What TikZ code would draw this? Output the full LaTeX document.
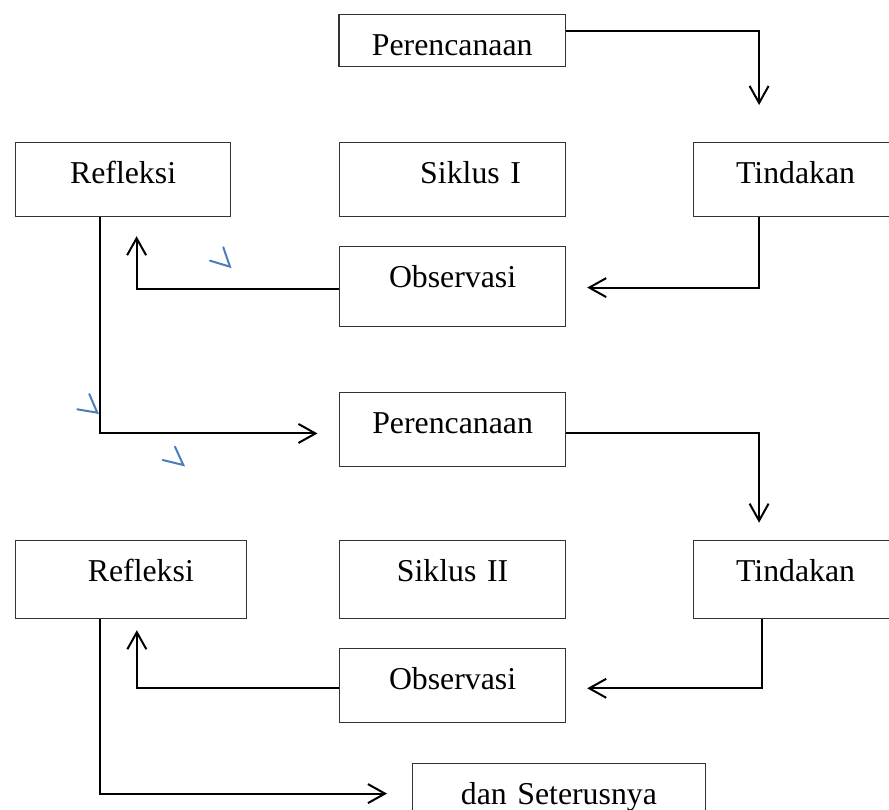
\documentclass[tikz,border=0pt]{standalone}
\usepackage{fontspec}
\setmainfont{Liberation Serif}
\usetikzlibrary{arrows.meta}
\definecolor{markblue}{RGB}{74,126,187}
\begin{document}
\begin{tikzpicture}[x=1pt,y=-1pt,
  bx/.style 2 args={draw=black!80, line width=1.2pt, anchor=north west, inner sep=0pt,
    text width=#1pt, text height=41pt, text depth=#2pt, align=center,
    font=\fontsize{31.8}{38}\selectfont},
  conn/.style={line width=2pt, -{Straight Barb[length=17pt,width=19pt,line width=2pt]}},
  bluemark/.style={draw=markblue, line width=2pt, line cap=round}]
\useasboundingbox (0,0) rectangle (889,809);
\clip (0,0) rectangle (889,809);
% boxes
\node[bx={226.7}{11}] (p1) at (338.3,14) {Perencanaan};
\node[bx={215}{33}] (r1) at (15,142) {Refleksi};
\node[bx={226}{33}] (s1) at (339,142) {\hspace*{36pt}Siklus I};
\node[bx={204}{33}] (t1) at (693,142) {Tindakan};
\node[bx={226}{39}] (o1) at (339,246) {Observasi};
\node[bx={226}{33.3}] (p2) at (339,391.7) {Perencanaan};
\node[bx={230.5}{37}] (r2) at (15,540) {\hspace*{20pt}Refleksi};
\node[bx={226}{37}] (s2) at (339,540) {Siklus II};
\node[bx={204}{37}] (t2) at (693,540) {Tindakan};
\node[bx={226}{33}] (o2) at (339,647.7) {Observasi};
\node[bx={292.6}{39}] (d) at (412,763) {dan Seterusnya};
% connectors
\draw[conn] ([yshift=10pt]p1.east) -| ([xshift=-36.5pt,yshift=37pt]t1.north);
\draw[conn] ([xshift=-36.5pt]t1.south) |- ([xshift=21pt,yshift=-1pt]o1.east);
\draw[conn] ([yshift=-2pt]o1.west) -| ([xshift=13.5pt,yshift=-19pt]r1.south);
\draw[conn] ([xshift=-23.5pt]r1.south) |- ([xshift=-21.5pt,yshift=-4pt]p2.west);
\draw[conn] ([yshift=-4pt]p2.east) -| ([xshift=-36.5pt,yshift=17.3pt]t2.north);
\draw[conn] ([xshift=-34pt]t2.south) |- ([xshift=21pt,yshift=-3pt]o2.east);
\draw[conn] ([yshift=-3pt]o2.west) -| ([xshift=6pt,yshift=-11pt]r2.south);
\draw[conn] ([xshift=-31.25pt]r2.south) |- ([xshift=-25pt,yshift=10pt]d.west);
% blue marks
\draw[bluemark] (210,260.7) -- (230,266.7) -- (223.3,247.3);
\draw[bluemark] (77.3,409.3) -- (97.3,412.7) -- (89.3,394);
\draw[bluemark] (162.7,460) -- (183.3,465) -- (175,446.7);
\end{tikzpicture}
\end{document}
